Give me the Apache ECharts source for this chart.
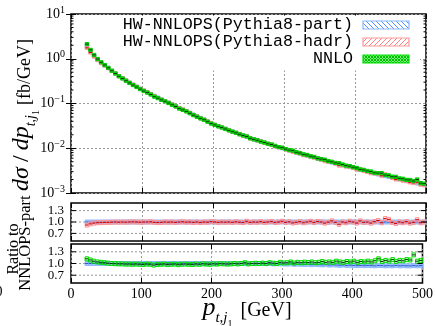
<!DOCTYPE html>
<html><head><meta charset="utf-8">
<script src="https://cdn.jsdelivr.net/npm/echarts@6/dist/echarts.min.js"></script>
<style>html,body{margin:0;padding:0;background:#fff}#c{width:436px;height:326px}</style>
</head><body><div id="c"></div>
<script>
// ---------------- data ----------------
const binEdges = [20,25,30,35,40,45,50,55,60,65,70,75,80,85,90,95,100,105,110,115,120,125,130,135,140,145,150,155,160,165,170,175,180,185,190,195,200,205,210,215,220,225,230,235,240,245,250,255,260,265,270,275,280,285,290,295,300,305,310,315,320,325,330,335,340,345,350,355,360,365,370,375,380,385,390,395,400,405,410,415,420,425,430,435,440,445,450,455,460,465,470,475,480,485,490,495,500];
// HW-NNLOPS (Pythia8-part), dsigma/dpt [fb/GeV]
const partVals = [1.90,1.45,1.15,0.95,0.81,0.71,0.62,0.54,0.47,0.41,
0.367,0.327,0.292,0.263,0.237,0.214,0.195,0.178,0.162,0.148,
0.135,0.123,0.1135,0.105,0.0955,0.0871,0.0794,0.0733,0.0676,0.0617,
0.0562,0.0513,0.0473,0.0437,0.0398,0.0363,0.0335,0.0313,0.0292,0.0272,
0.0254,0.0237,0.0221,0.0207,0.0193,0.0180,0.0168,0.0158,0.0150,0.0141,
0.0133,0.0126,0.0119,0.0112,0.0106,0.0100,0.00944,0.00891,0.00851,0.00804,
0.00759,0.00716,0.00684,0.00646,0.00617,0.00582,0.00556,0.00531,0.00501,0.00479,
0.00457,0.00437,0.00417,0.00398,0.00380,0.00363,0.00343,0.00327,0.00313,0.00299,
0.00285,0.00272,0.00260,0.00248,0.00240,0.00229,0.00219,0.00209,0.00202,0.00193,
0.00184,0.00178,0.00170,0.00164,0.00157,0.00150];
// ratio HW-NNLOPS(Pythia8-hadr) / NNLOPS-part
const ratioHadr = [0.92,0.95,0.97,0.98,0.985,0.99,0.99,0.995,1.0,0.995,
1.0,0.995,1.0,1.005,1.0,0.995,1.0,1.0,1.005,0.99,
0.985,0.99,1.0,0.995,1.0,0.99,1.0,1.005,0.995,1.0,
0.99,1.0,0.985,1.0,0.995,1.01,1.0,0.99,1.0,0.995,
1.0,0.99,1.005,0.995,0.985,1.02,0.99,1.0,0.995,1.01,
0.99,1.0,1.015,0.985,1.0,1.02,0.99,1.005,0.975,0.99,
1.01,0.98,1.0,1.02,0.985,1.015,1.0,0.97,0.995,1.03,
0.99,0.94,1.0,0.98,1.02,1.0,0.97,1.03,0.99,1.0,
0.97,1.01,1.04,0.98,1.09,1.07,0.99,0.96,1.0,0.98,
1.01,0.97,0.99,1.06,0.98,1.0];
// ratio NNLO / NNLOPS-part
const ratioNNLO = [1.12,1.09,1.06,1.04,1.03,1.02,1.01,1.0,0.995,0.99,
0.99,0.985,0.985,0.98,0.985,0.98,0.975,0.985,0.98,0.96,
0.975,0.98,0.985,0.975,0.98,0.985,0.97,0.98,0.985,0.98,
0.975,0.985,0.98,0.99,0.985,0.98,0.99,0.985,0.995,0.99,
0.985,0.99,1.0,0.99,1.0,1.02,0.99,1.0,1.005,1.0,
1.01,1.0,1.02,1.01,1.0,1.03,1.015,1.02,1.04,1.01,
1.03,1.02,1.035,1.025,1.04,1.02,1.03,1.05,1.03,1.04,
1.03,1.06,1.04,1.03,1.05,1.04,1.06,1.03,1.05,1.04,
1.06,1.04,1.07,1.12,1.05,1.08,1.06,1.1,1.05,1.08,
1.07,1.1,1.09,1.22,1.06,1.08];
// blue reference band in lower ratio panel
const ratioPartLower = [1.0,1.0,1.0,1.0,1.0,1.0,1.0,1.0,1.0,1.0,
1.0,1.0,1.0,1.0,1.0,1.0,1.0,1.0,1.0,1.0,
1.0,1.0,1.0,1.0,1.0,1.0,1.0,1.0,1.0,1.0,
1.0,1.0,1.0,1.0,1.0,1.0,1.0,1.0,1.0,1.0,
1.0,1.0,1.0,1.0,1.0,0.995,1.0,1.0,0.995,1.0,
1.0,0.995,1.0,0.99,0.995,0.99,0.99,0.985,0.99,0.98,
0.985,0.98,0.975,0.98,0.97,0.975,0.97,0.965,0.97,0.96,
0.965,0.96,0.955,0.96,0.95,0.955,0.95,0.945,0.95,0.945,
0.95,0.945,0.94,0.95,0.945,0.94,0.945,0.94,0.95,0.94,
0.945,0.94,0.94,0.945,0.94,0.945];
const xTicks = [0,100,200,300,400,500];
const ratioTicks = [0.7,1.0,1.3];
const legendLabels = ['HW-NNLOPS(Pythia8-part)','HW-NNLOPS(Pythia8-hadr)','NNLO'];

// ---------------- helpers ----------------
const SERIF = "'Liberation Serif','DejaVu Serif',serif";
const MONO = "'Liberation Mono','DejaVu Sans Mono',monospace";
const gridStyle = {color:'#9a9a9a', type:[2,2], width:1};
const mctx = document.createElement('canvas').getContext('2d');
function measure(t, font){ mctx.font = font; return mctx.measureText(t).width; }
function mathText(pieces, cx, cy, rot){
  let total = 0;
  pieces.forEach(p => { p.font = (p.italic?'italic ':'') + p.size + 'px ' + SERIF; p.w = measure(p.t, p.font); total += p.w + (p.gap||0); });
  let x = -total/2;
  const children = pieces.map(p => { const el = {type:'text', x: x, y: (p.dy||0), style:{text:p.t, font:p.font, fill:'#000', verticalAlign:'bottom', align:'left'}}; x += p.w + (p.gap||0); return el; });
  return {type:'group', x:cx, y:cy, rotation:rot, children};
}
function hatch(color, dir, size, bg, width){
  const c = document.createElement('canvas'); c.width = c.height = size;
  const g = c.getContext('2d');
  g.fillStyle = bg; g.fillRect(0,0,size,size);
  g.strokeStyle = color; g.lineWidth = width||1; g.beginPath();
  const segs = dir > 0 ? [[0,size,size,0],[-size,size,size,-size],[0,2*size,2*size,0]]
                       : [[0,0,size,size],[-size,0,size,2*size],[0,-size,2*size,size]];
  if (dir === 0) segs.push([0,0,size,size],[0,size,size,0]);
  segs.forEach(s => { g.moveTo(s[0],s[1]); g.lineTo(s[2],s[3]); });
  g.stroke(); return c;
}
function binData(vals){ return vals.map((v,i) => [binEdges[i], binEdges[i+1], v]); }
function boxSeries(xi, yi, vals, st){
  return {type:'custom', xAxisIndex:xi, yAxisIndex:yi, silent:true, clip:true, z:3,
    data: binData(vals), encode:{x:[0,1], y:2},
    renderItem:(params, api) => {
      const a = api.coord([api.value(0), api.value(2)]), b = api.coord([api.value(1), api.value(2)]);
      const h = st.half;
      return {type:'group', children:[
        {type:'rect', shape:{x:a[0], y:a[1]-h, width:b[0]-a[0], height:2*h}, style:{fill:st.fill, stroke:st.stroke, lineWidth:1}},
        {type:'line', shape:{x1:a[0], y1:a[1], x2:b[0], y2:b[1]}, style:{stroke:st.line, lineWidth:1}}
      ]};
    }};
}
function hLines(xi, yi, vals){
  return {type:'custom', xAxisIndex:xi, yAxisIndex:yi, silent:true, z:1,
    data: vals.map(v => [0, v]), encode:{x:0, y:1},
    renderItem:(p, api) => { const v = api.value(1); const a = api.coord([0,v]), b = api.coord([500,v]);
      return {type:'line', shape:{x1:a[0], y1:a[1], x2:b[0], y2:b[1]}, style:{stroke:gridStyle.color, lineWidth:1, lineDash:[2,2]}}; }};
}
// tick marks drawn on both sides of a panel at the given values
function sideTicks(xi, yi, vals, len){
  return {type:'custom', xAxisIndex:xi, yAxisIndex:yi, silent:true, z:4, clip:false,
    data: vals.map(v => [0, v]), encode:{x:0, y:1},
    renderItem:(p, api) => { const v = api.value(1); const a = api.coord([0,v]), b = api.coord([500,v]);
      return {type:'group', children:[
        {type:'line', shape:{x1:a[0], y1:a[1], x2:a[0]+len, y2:a[1]}, style:{stroke:'#000', lineWidth:1}},
        {type:'line', shape:{x1:b[0]-len, y1:b[1], x2:b[0], y2:b[1]}, style:{stroke:'#000', lineWidth:1}}]}; }};
}
const minorVals = [];
[0.001,0.01,0.1,1].forEach(d => { for (let k=2;k<=9;k++) minorVals.push(k*d); });
function xAx(g, pos, labels, split){
  return {type:'value', gridIndex:g, position:pos, min:0, max:500, interval:100,
    axisLine:{show:false}, axisTick:{show:true, inside:true, length:5, lineStyle:{color:'#000', width:1}},
    axisLabel:{show:labels, color:'#000', fontFamily:SERIF, fontSize:14, margin:4},
    splitLine:{show:split, lineStyle:gridStyle}};
}
function logY(pos, labels, split){
  return {type:'log', gridIndex:0, position:pos, min:0.001, max:10, logBase:10,
    axisLine:{show:false}, axisTick:{show:true, inside:true, length:5, lineStyle:{color:'#000', width:1}},
    axisLabel:{show:labels, margin:6, formatter:v => { const e = Math.round(Math.log10(v)); return '{b|10}{s|' + (e<0 ? '\u2212'+(-e) : e) + '}'; },
      rich:{b:{fontFamily:SERIF, fontSize:14, color:'#000'}, s:{fontFamily:SERIF, fontSize:10, color:'#000', padding:[0,0,8,0]}}},
    splitLine:{show:split, lineStyle:gridStyle}};
}
function ratioY(g, pos, labels){
  return {type:'value', gridIndex:g, position:pos, min:0.5, max:1.5, interval:0.1,
    axisLine:{show:false}, axisTick:{show:false},
    axisLabel:{show:labels, hideOverlap:false, formatter:v => ratioTicks.some(t => Math.abs(t-v) < 1e-6) ? v.toFixed(1) : '',
      color:'#000', fontFamily:SERIF, fontSize:13, lineHeight:11, margin:7},
    splitLine:{show:false}};
}

const hadrVals = partVals.map((v,i) => v*ratioHadr[i]);
const nnloVals = partVals.map((v,i) => v*ratioNNLO[i]);
const ratioPartUpper = partVals.map(v => v/v);

const C = {
  partMain:{half:1.6, fill:'rgba(120,170,255,0.7)', stroke:'#88b4ff', line:'#2244cc'},
  hadrMain:{half:1.6, fill:'rgba(255,140,140,0.7)', stroke:'#ff9a9a', line:'#cc0000'},
  nnloMain:{half:1.6, fill:'#22dd22', stroke:'#00cc00', line:'#0a300a'},
  partR:{half:2, fill:'rgba(140,185,255,0.8)', stroke:'#8cb8ff', line:'#3355cc'},
  hadrR:{half:2, fill:'rgba(255,170,170,0.35)', stroke:'#ff9090', line:'#cc0000'},
  nnloR:{half:2, fill:'rgba(60,230,60,0.25)', stroke:'#00dd00', line:'#0a300a'}
};

const patBlue = hatch('#4f8fff', -1, 5, '#ffffff', 1);
const patRed = hatch('#ff8080', 1, 5, '#ffffff', 1);
const patGreen = hatch('#00c000', 0, 3, '#7cf07c', 1);

const legendY = [25, 42, 59];
const legendPats = [[patBlue,'#88b8ff'],[patRed,'#ff9a9a'],[patGreen,'#00e000']];
const graphics = [
  {type:'rect', z:1, shape:{x:79, y:15.5, width:341, height:55}, style:{fill:'#fff'}, silent:true}
];
legendLabels.forEach((t,i) => {
  graphics.push({type:'text', z:5, x:353, y:legendY[i], style:{text:t, font:'16.7px '+MONO, fill:'#000', align:'right', verticalAlign:'middle'}});
  graphics.push({type:'rect', z:5, shape:{x:363, y:legendY[i]-4, width:46, height:8}, style:{fill:{image:legendPats[i][0], repeat:'repeat'}, stroke:legendPats[i][1], lineWidth:1.2}});
});
// y title main
graphics.push(mathText([
  {t:'d\u03c3', italic:true, size:24, gap:5},
  {t:'/', size:24, gap:5},
  {t:'dp', italic:true, size:24},
  {t:'t,j', italic:true, size:14, dy:4},
  {t:'1', size:10, dy:7, gap:5},
  {t:'[fb/GeV]', size:18}
], 34, 115, Math.PI/2));
// ratio title
graphics.push({type:'text', x:14, y:249, rotation:Math.PI/2, style:{text:'Ratio to', font:'16px '+SERIF, fill:'#000', align:'center', verticalAlign:'middle'}});
graphics.push({type:'text', x:26, y:243, rotation:Math.PI/2, style:{text:'NNLOPS-part', font:'16.5px '+SERIF, fill:'#000', align:'center', verticalAlign:'middle'}});
// x title
graphics.push(mathText([
  {t:'p', italic:true, size:26},
  {t:'t,j', italic:true, size:15, dy:5},
  {t:'1', size:10, dy:8, gap:8},
  {t:'[GeV]', size:20}
], 247, 321, 0));
graphics.push({type:'text', x:-1, y:292, style:{text:'0', font:'14px '+SERIF, fill:'#000', align:'center', verticalAlign:'middle'}});

const option = {
  animation:false,
  backgroundColor:'#fff',
  grid:[
    {left:71, top:14, width:355, height:179, show:true, borderColor:'#000', borderWidth:1.5, backgroundColor:'transparent'},
    {left:71, top:203, width:355, height:38, show:true, borderColor:'#000', borderWidth:1.5, backgroundColor:'transparent'},
    {left:71, top:244, width:355, height:39, show:true, borderColor:'#000', borderWidth:1.5, backgroundColor:'transparent'}
  ],
  xAxis:[xAx(0,'bottom',false,true), xAx(0,'top',false,false), xAx(1,'bottom',false,true), xAx(1,'top',false,false), xAx(2,'bottom',true,true), xAx(2,'top',false,false)],
  yAxis:[logY('left',true,true), logY('right',false,false), ratioY(1,'left',true), ratioY(1,'right',false), ratioY(2,'left',true), ratioY(2,'right',false)],
  series:[
    boxSeries(0,0,partVals,C.partMain),
    boxSeries(0,0,hadrVals,C.hadrMain),
    boxSeries(0,0,nnloVals,C.nnloMain),
    sideTicks(0,0,minorVals,2.5),
    hLines(2,2,ratioTicks),
    sideTicks(2,2,ratioTicks,5),
    boxSeries(2,2,ratioPartUpper,C.partR),
    boxSeries(2,2,ratioHadr,C.hadrR),
    hLines(4,4,ratioTicks),
    sideTicks(4,4,ratioTicks,5),
    boxSeries(4,4,ratioPartLower,C.partR),
    boxSeries(4,4,ratioNNLO,C.nnloR)
  ],
  graphic:{elements:graphics}
};
const chart = echarts.init(document.getElementById('c'), null, {renderer:'canvas'});
chart.setOption(option);
</script></body></html>
